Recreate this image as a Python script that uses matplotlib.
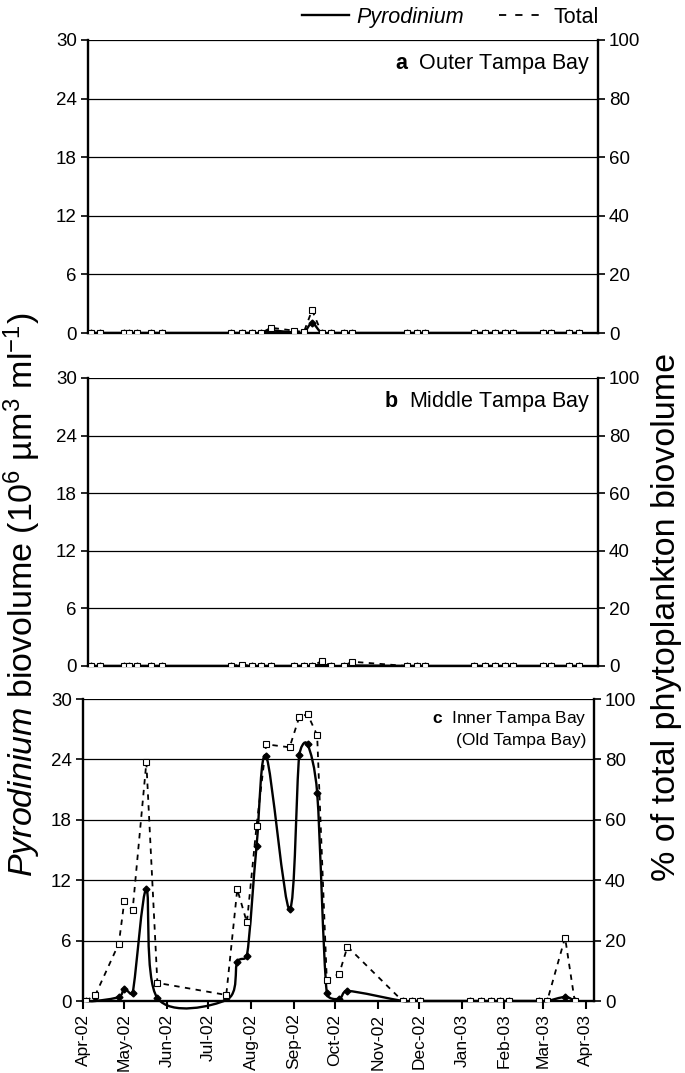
import numpy as np
import pandas as pd
import matplotlib
matplotlib.use('Agg')
import matplotlib.pyplot as plt
import matplotlib.dates as mdates
from matplotlib.path import Path
from matplotlib.patches import PathPatch
from matplotlib.lines import Line2D

plt.rcParams['font.family'] = ['Liberation Sans', 'DejaVu Sans']
plt.rcParams['mathtext.fontset'] = 'custom'
plt.rcParams['mathtext.rm'] = 'Liberation Sans'
plt.rcParams['mathtext.it'] = 'Liberation Sans:italic'
plt.rcParams['mathtext.bf'] = 'Liberation Sans:bold'

# sampling dates (same for all three stations)
dates = ['2002-04-03', '2002-04-10', '2002-04-27', '2002-05-01', '2002-05-07', '2002-05-17',
         '2002-05-25', '2002-07-14', '2002-07-22', '2002-07-29', '2002-08-05', '2002-08-12',
         '2002-08-29', '2002-09-05', '2002-09-11', '2002-09-18', '2002-09-25', '2002-10-04',
         '2002-10-10', '2002-11-19', '2002-11-26', '2002-12-02', '2003-01-07', '2003-01-15',
         '2003-01-22', '2003-01-29', '2003-02-04', '2003-02-26', '2003-03-04', '2003-03-17',
         '2003-03-24']

# Pyrodinium biovolume (10^6 um3 ml-1), left axis
pyro_outer = [0, 0, 0, 0, 0, 0, 0, 0, 0, 0, 0, 0.25, 0.05, 0.05, 1.0, 0, 0, 0, 0,
              0, 0, 0, 0, 0, 0, 0, 0, 0, 0, 0, 0]
pyro_middle = [0, 0, 0, 0, 0, 0, 0, 0, 0, 0, 0, 0, 0, 0, 0, 0.15, 0, 0, 0.05,
               0, 0, 0, 0, 0, 0, 0, 0, 0, 0, 0, 0]
pyro_inner = [0, 0, 0.4, 1.2, 0.8, 11.1, 0.3, 0.1, 3.9, 4.5, 15.4, 24.3, 9.1, 24.4, 25.5,
              20.7, 0.8, 0.2, 1.0, 0, 0, 0, 0, 0, 0, 0, 0, 0, 0, 0.4, 0]

# % of total phytoplankton biovolume, right axis
total_outer = [0, 0, 0, 0, 0, 0, 0, 0, 0, 0, 0, 1.8, 0.8, 0.3, 7.8, 0, 0, 0, 0,
               0, 0, 0, 0, 0, 0, 0, 0, 0, 0, 0, 0]
total_middle = [0, 0, 0, 0, 0, 0, 0, 0, 0.5, 0, 0, 0, 0, 0, 0, 1.7, 0, 0, 1.5,
                0, 0, 0, 0, 0, 0, 0, 0, 0, 0, 0, 0]
total_inner = [0, 2, 19, 33, 30, 79, 6, 2, 37, 26, 58, 85, 84, 94, 95, 88, 7, 9, 18,
               0, 0, 0, 0, 0, 0, 0, 0, 0, 0, 21, 0]

panels = [
    (r'$\mathbf{a}$  Outer Tampa Bay', pyro_outer, total_outer),
    (r'$\mathbf{b}$  Middle Tampa Bay', pyro_middle, total_middle),
    (r'$\mathbf{c}$  Inner Tampa Bay', pyro_inner, total_inner),
]
left_ticks = [0, 6, 12, 18, 24, 30]
right_ticks = [0, 20, 40, 60, 80, 100]

W, H = 685, 1073
# axes boxes in pixels: left, top, right, bottom
boxes = [(88, 40, 598, 333), (88, 378, 598, 666), (83, 699, 594, 1001)]

x = mdates.date2num(pd.to_datetime(dates))
xmin = mdates.date2num(pd.Timestamp('2002-04-01'))
xmax = mdates.date2num(pd.Timestamp('2003-04-07'))


def smooth_path(xs, ys, sx, sy):
    # excel-like smoothed line: catmull-rom bezier, control arms limited
    # to half the segment length (measured in pixels)
    px = np.column_stack([xs * sx, ys * sy])
    n = len(px)
    verts = [tuple(px[0])]
    codes = [Path.MOVETO]
    for i in range(n - 1):
        a = i - 1 if i > 0 else i
        d = i + 2 if i + 2 < n else i + 1
        seg = np.hypot(*(px[i + 1] - px[i]))
        arm1 = (px[i + 1] - px[a]) / 6
        arm2 = (px[d] - px[i]) / 6
        for arm in (arm1, arm2):
            ln = np.hypot(*arm)
            if ln > seg / 2 and ln > 0:
                arm *= (seg / 2) / ln
        c1 = px[i] + arm1
        c2 = px[i + 1] - arm2
        verts += [tuple(c1), tuple(c2), tuple(px[i + 1])]
        codes += [Path.CURVE4] * 3
    verts = np.array(verts) / [sx, sy]
    return Path(verts, codes)


fig = plt.figure(figsize=(W / 100, H / 100), dpi=100)
dash = (0, (3, 3))

for k, (label, pyro, total) in enumerate(panels):
    l, t, r, b = boxes[k]
    ax = fig.add_axes([l / W, 1 - b / H, (r - l) / W, (b - t) / H])
    ax2 = ax.twinx()

    sx = (r - l) / (xmax - xmin)
    sy = (b - t) / 30
    ax.add_patch(PathPatch(smooth_path(x, np.array(pyro, float), sx, sy), fill=False,
                           lw=1.7, edgecolor='black', clip_on=(k < 2), zorder=3))
    ax.plot(x, pyro, ls='none', marker='D', ms=3.5, color='black', zorder=4)
    ax2.plot(x, total, color='black', lw=1.3, ls=dash, marker='s', ms=5,
             mfc='white', mec='black', mew=0.8, zorder=3)

    ax.set_xlim(xmin, xmax)
    ax.set_ylim(0, 30)
    ax2.set_ylim(0, 100)
    ax.set_yticks(left_ticks)
    ax2.set_yticks(right_ticks)
    ax.yaxis.grid(True, color='black', lw=0.9)
    ax.set_axisbelow(True)

    ax.spines['top'].set_visible(False)
    for s in ax2.spines:
        ax2.spines[s].set_visible(False)
    for s in ['left', 'right', 'bottom']:
        ax.spines[s].set_linewidth(1.7)

    ax.tick_params(axis='y', direction='out', length=5, width=1.2, labelsize=13.5, pad=3)
    ax2.tick_params(axis='y', direction='out', length=5, width=1.2, labelsize=13.5, pad=3)

    ax.xaxis.set_major_locator(mdates.MonthLocator())
    ax.xaxis.set_major_formatter(mdates.DateFormatter('%b-%y'))
    if k < 2:
        ax.tick_params(axis='x', length=0, labelbottom=False)
        ax.text(0.985, 0.918, label, transform=ax.transAxes,
                ha='right', va='center', fontsize=15.5)
    else:
        ax.tick_params(axis='x', direction='out', length=6, width=1.5,
                       labelsize=12.5, labelrotation=90, pad=3)
        ax.text(0.985, 0.935, label, transform=ax.transAxes,
                ha='right', va='center', fontsize=12.5)
        ax.text(0.985, 0.862, '(Old Tampa Bay)', transform=ax.transAxes,
                ha='right', va='center', fontsize=12.5)

fig.text(22 / W, 1 - 595 / H,
         r'$\mathit{Pyrodinium}$ biovolume (10$^{6}$ µm$^{3}$ ml$^{-1}$)',
         rotation=90, ha='center', va='center', fontsize=24.5)
fig.text(666 / W, 1 - 617 / H, '% of total phytoplankton biovolume',
         rotation=90, ha='center', va='center', fontsize=24.5)

handles = [Line2D([], [], color='black', lw=1.7),
           Line2D([], [], color='black', lw=1.3, ls=(0, (4, 5)))]
leg = fig.legend(handles, ['Pyrodinium', 'Total'], loc='upper right',
                 bbox_to_anchor=(599 / W, 1 - 7 / H), ncol=2, frameon=False,
                 fontsize=15.5, handlelength=2.2, columnspacing=1.6,
                 handletextpad=0.35, borderaxespad=0, borderpad=0)
leg.get_texts()[0].set_fontstyle('italic')

plt.savefig('out.png', dpi=100)
